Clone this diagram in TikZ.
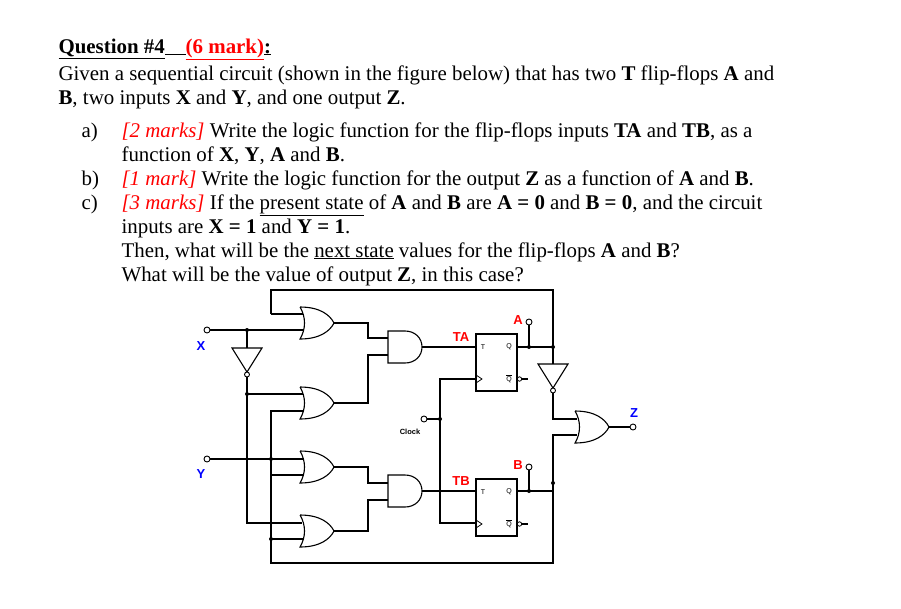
\documentclass[tikz,border=0pt]{standalone}
\usepackage{fontspec}
\setmainfont{Liberation Serif}
\setsansfont{Liberation Sans}
\begin{document}
\begin{tikzpicture}[x=1pt,y=-1pt,line width=1.1pt,
 txt/.style={anchor=base west,inner sep=0pt,font=\fontsize{20.9}{22}\selectfont},
 lbl/.style={font=\sffamily\bfseries\fontsize{13}{13}\selectfont,inner sep=0pt},
 term/.style={circle,draw,fill=white,inner sep=0pt,minimum size=6pt,line width=0.9pt},
 dot/.style={circle,fill,inner sep=0pt,minimum size=4pt},
 pics/orgate/.style={code={\draw[fill=white] (0,-16) .. controls (20,-16) and (30,-8) .. (34,0) .. controls (30,8) and (20,16) .. (0,16) .. controls (6,6) and (6,-6) .. (0,-16);}},
 pics/andgate/.style={code={\draw[fill=white] (0,-16) -- (17,-16) .. controls (27,-16) and (34,-9) .. (34,0) .. controls (34,9) and (27,16) .. (17,16) -- (0,16) -- cycle;}},
 pics/invd/.style={code={\draw[fill=white] (-15,0) -- (15,0) -- (0,24) -- cycle; \draw[fill=white,line width=0.9pt] (0,26.5) circle (2.5);}}]
\useasboundingbox (0,0) rectangle (901,608);
\fill[white] (0,0) rectangle (901,608);
% text
\node[txt] (q) at (58,53) {\textbf{\underline{Question \#4}}\underline{\phantom{xx}}\textcolor{red}{\textbf{\underline{(6 mark)}}}\textbf{\underline{:}}};
\node[txt] (l1) at (58,80) {Given a sequential circuit (shown in the figure below) that has two \textbf{T} flip-flops \textbf{A} and};
\node[txt] (l2) at (58,104) {\textbf{B}, two inputs \textbf{X} and \textbf{Y}, and one output \textbf{Z}.};
\node[txt] (a1) at (81,137) {a)};
\node[txt] (a2) at (121,137) {\textcolor{red}{\textit{[2 marks]}} Write the logic function for the flip-flops inputs \textbf{TA} and \textbf{TB}, as a};
\node[txt] (a3) at (121,161) {function of \textbf{X}, \textbf{Y}, \textbf{A} and \textbf{B}.};
\node[txt] (b1) at (81,185) {b)};
\node[txt] (b2) at (121,185) {\textcolor{red}{\textit{[1 mark]}} Write the logic function for the output \textbf{Z} as a function of \textbf{A} and \textbf{B}.};
\node[txt] (c1) at (81,209) {c)};
\node[txt] (c2) at (121,209) {\textcolor{red}{\textit{[3 marks]}} If the \underline{present state} of \textbf{A} and \textbf{B} are \textbf{A = 0} and \textbf{B = 0}, and the circuit};
\node[txt] (c3) at (121,233) {inputs are \textbf{X = 1} and \textbf{Y = 1}.};
\node[txt] (c4) at (121,257) {Then, what will be the \underline{next state} values for the flip-flops \textbf{A} and \textbf{B}?};
\node[txt] (c5) at (121,281) {What will be the value of output \textbf{Z}, in this case?};
% gates
\pic at (300,323) {orgate};
\pic at (300,403) {orgate};
\pic at (300,467) {orgate};
\pic at (300,531) {orgate};
\pic at (388,347) {andgate};
\pic at (388,491) {andgate};
\pic at (575,427) {orgate};
\pic at (247,348) {invd};
\pic at (553,364) {invd};
% flip-flops
\draw[fill=white] (476,334) rectangle (517,391);
\draw[fill=white] (476,479) rectangle (517,536);
\foreach \y/\n in {334/a,479/b}{
 \node[font=\sffamily\fontsize{7}{7}\selectfont] at (483,\y+13) {T};
 \node[font=\sffamily\fontsize{7}{7}\selectfont] at (509,\y+13) {Q};
 \node[font=\sffamily\fontsize{7}{7}\selectfont] at (509,\y+45) {$\overline{\mbox{Q}}$};
 \draw[line width=0.8pt] (476,\y+41) -- (482,\y+45) -- (476,\y+49);
 \draw[line width=0.8pt,fill=white] (519.5,\y+45) circle (2.2);
 \draw (521.7,\y+45) -- (528,\y+45);
}
% wires
\draw (271,314) -- (271,290) -- (553,290) -- (553,364);
\draw (271,314) -- (303,314);
\draw (210,330) -- (303,330);
\draw (247,330) -- (247,348);
\draw (247,377) -- (247,523) -- (302,523);
\draw (247,394) -- (303,394);
\draw (303,411) -- (271,411) -- (271,563) -- (553,563) -- (553,435) -- (577,435);
\draw (210,459) -- (303,459);
\draw (271,475) -- (303,475);
\draw (271,539) -- (303,539);
\draw (334,323) -- (368,323) -- (368,338) -- (388,338);
\draw (334,403) -- (368,403) -- (368,355) -- (388,355);
\draw (334,467) -- (368,467) -- (368,483) -- (388,483);
\draw (334,531) -- (368,531) -- (368,500) -- (388,500);
\draw (422,347) -- (476,347);
\draw (422,491) -- (476,491);
\draw (517,347) -- (553,347);
\draw (517,491) -- (553,491);
\draw (553,393) -- (553,419) -- (577,419);
\draw (609,427) -- (630,427);
\draw (427,419) -- (440,419);
\draw (476,379) -- (440,379) -- (440,523) -- (476,523);
\draw (529,347) -- (529,325);
\draw (529,491) -- (529,470);
% dots
\foreach \p in {(247,330),(247,394),(271,459),(271,539),(529,347),(553,347),(529,491),(553,483),(440,419)} \node[dot] at \p {};
% terminals
\node[term] (X) at (207,330) {};
\node[term] (Y) at (207,459) {};
\node[term] (Z) at (633,427) {};
\node[term] (A) at (529,322) {};
\node[term] (B) at (529,467) {};
\node[term] (C) at (424,419) {};
% labels
\node[lbl,text=blue] at (201,346) {X};
\node[lbl,text=blue] at (201,474) {Y};
\node[lbl,text=blue] at (634,413) {Z};
\node[lbl,text=red] at (518,320) {A};
\node[lbl,text=red] at (518,465) {B};
\node[lbl,text=red] at (461,337) {TA};
\node[lbl,text=red] at (461,481) {TB};
\node[font=\sffamily\bfseries\fontsize{7.5}{7.5}\selectfont] at (410,432) {Clock};
\end{tikzpicture}
\end{document}
